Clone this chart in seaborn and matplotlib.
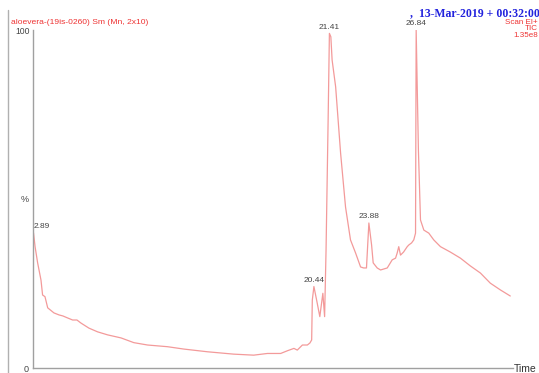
import matplotlib
matplotlib.use('Agg')
import pandas as pd
import matplotlib.pyplot as plt
import seaborn as sns
from matplotlib.ticker import MultipleLocator

# chromatogram trace (time in min, relative intensity in %)
times = [2.89, 2.99, 3.15, 3.36, 3.46, 3.61, 3.78, 4.17, 4.49, 4.73, 5.03, 5.34,
         5.61, 5.86, 6.36, 6.90, 7.53, 8.37, 9.17, 10.03, 11.28, 12.30, 13.78,
         15.42, 16.67, 17.53, 18.36, 18.78, 19.19, 19.40, 19.72, 20.03, 20.19,
         20.30, 20.34, 20.44, 20.61, 20.81, 21.00, 21.11, 21.20, 21.33, 21.41,
         21.50, 21.58, 21.80, 22.11, 22.42, 22.73, 23.05, 23.36, 23.55, 23.73, 23.88,
         24.05, 24.15, 24.40, 24.61, 25.03, 25.34, 25.55, 25.65, 25.75, 25.86,
         26.05, 26.28, 26.38, 26.55, 26.69, 26.80, 26.84, 26.98, 27.11, 27.32,
         27.63, 27.94, 28.36, 28.98, 29.61, 30.23, 30.86, 31.48, 32.11, 32.73]
intensity = [40.0, 35.9, 31.1, 26.0, 21.6, 21.1, 17.8, 16.3, 15.7, 15.4, 14.8, 14.2,
             14.2, 13.3, 11.8, 10.7, 9.8, 8.9, 7.5, 6.8, 6.3, 5.6, 4.8,
             4.1, 3.8, 4.3, 4.3, 5.1, 5.8, 5.3, 6.8, 6.8, 7.4,
             8.3, 20.1, 24.1, 20.1, 15.2, 22.1, 15.2, 34.9, 73.4, 99.0,
             98.0, 91.1, 83.2, 63.6, 47.6, 37.9, 34.0, 29.9, 29.6, 29.6, 42.9,
             36.4, 31.1, 29.6, 29.0, 29.6, 32.0, 32.5, 34.0, 35.9, 33.4,
             34.3, 35.9, 36.4, 37.0, 37.9, 39.9, 100.0, 64.5, 43.8, 40.8,
             39.9, 37.9, 35.9, 34.3, 32.5, 30.2, 28.1, 25.1, 23.1, 21.3]

peak_times = [2.89, 20.44, 21.41, 23.88, 26.84]
peak_heights = [40.0, 24.1, 99.0, 42.9, 100.0]
peak_labels = ["2.89", "20.44", "21.41", "23.88", "26.84"]

df = pd.DataFrame({"time": times, "pct": intensity})

sns.set_style("white")
plt.rcParams['font.family'] = ['Liberation Sans', 'DejaVu Sans']

fig = plt.figure(figsize=(5.39, 3.73), dpi=100)
ax = fig.add_axes([33 / 539, 5 / 373, 480 / 539, 338 / 373])

sns.lineplot(data=df, x="time", y="pct", ax=ax, color="#f39a9a", linewidth=0.9)

ax.set_xlim(2.86, 32.9)
ax.set_ylim(0, 100)
ax.set_xlabel("")
ax.set_ylabel("")

for s in ["top", "right"]:
    ax.spines[s].set_visible(False)
for s in ["left", "bottom"]:
    ax.spines[s].set_color("#a0a0a0")
    ax.spines[s].set_linewidth(1.0)

ax.yaxis.set_major_locator(MultipleLocator(10))
ax.set_yticklabels([])
ax.xaxis.set_major_locator(MultipleLocator(2.5))
ax.xaxis.set_minor_locator(MultipleLocator(0.5))
ax.set_xticklabels([])
ax.tick_params(axis="both", which="both", direction="out", length=2,
               width=0.6, color="#a0a0a0")
ax.tick_params(axis="x", which="major", length=3)

for t, h, lab in zip(peak_times, peak_heights, peak_labels):
    ax.annotate(lab, (t, h), xytext=(0, 2), textcoords="offset points",
                ha="left" if t < 3 else "center", va="bottom",
                fontsize=6, color="#444444")

# axis text
fig.text(30 / 539, 1 - 31 / 373, "100", ha="right", va="center", fontsize=6.2, color="#444444")
fig.text(29 / 539, 1 - 369 / 373, "0", ha="right", va="center", fontsize=6.5, color="#444444")
fig.text(25 / 539, 1 - 199 / 373, "%", ha="center", va="center", fontsize=6.5, color="#444444")
fig.text(537 / 539, 1 - 369 / 373, "Time", ha="right", va="center", fontsize=7.5, color="#333333")

# header
fig.text(11 / 539, 1 - 22 / 373, "aloevera-(19is-0260) Sm (Mn, 2x10)", ha="left",
         va="center", fontsize=6.1, color="#ee3333")
fig.text(540 / 539, 1 - 13 / 373, ",  13-Mar-2019 + 00:32:00", ha="right", va="center",
         fontsize=8.5, color="#2222dd", fontweight="bold", family="Liberation Serif")
fig.text(538 / 539, 1 - 22.5 / 373, "Scan EI+", ha="right", va="center", fontsize=5.8, color="#ee3333")
fig.text(538 / 539, 1 - 29 / 373, "TIC", ha="right", va="center", fontsize=5.8, color="#ee3333")
fig.text(538 / 539, 1 - 35.5 / 373, "1.35e8", ha="right", va="center", fontsize=5.8, color="#ee3333")

# left frame line of the screenshot
fig.add_artist(plt.Line2D([8 / 539, 8 / 539], [0, 1 - 10 / 373],
                          transform=fig.transFigure, color="#b0b0b0", linewidth=1.0))

fig.savefig("out.png", dpi=100)
